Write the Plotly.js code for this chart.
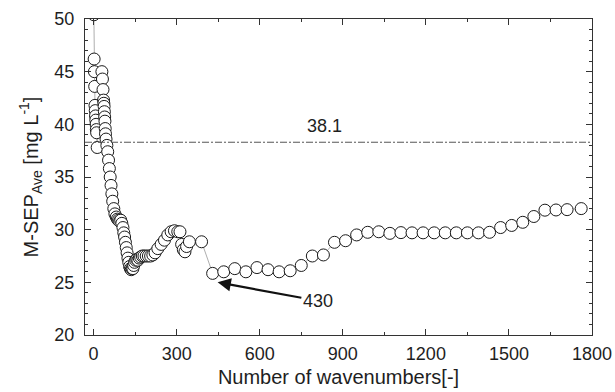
<!DOCTYPE html>
<html>
<head>
<meta charset="utf-8">
<script src="https://cdn.plot.ly/plotly-3.0.1.min.js"></script>
<style>html,body{margin:0;padding:0;background:#fff;}#chart{width:615px;height:392px;}</style>
</head>
<body>
<div id="chart"></div>
<script>
// Number of wavenumbers
const wavenumbers = [
  1, 2, 3, 4, 5, 6, 7, 8, 9, 10, 11, 13,
  30, 32, 34, 36, 37, 38, 39, 40, 41, 42, 43, 45, 48, 51, 54, 57, 60, 63, 66, 69, 73, 77,
  82, 86, 90, 94, 98, 102, 106, 109, 112, 115, 118, 121, 124, 127, 130, 133, 136, 139, 142,
  145, 148, 152, 156, 160, 165, 170, 176, 182, 190, 198, 206, 214, 222, 232, 244, 256, 268,
  280, 292, 304, 312, 318, 324, 330, 336, 346, 390,
  430, 470, 510, 550, 590, 630, 670, 710, 750, 790, 830, 870, 910, 950, 990, 1030, 1070,
  1110, 1150, 1190, 1230, 1270, 1310, 1350, 1390, 1430, 1470, 1510, 1550, 1590, 1630,
  1670, 1710, 1761
];
// M-SEP_Ave [mg L-1]
const msepAve = [
  50.4, 46.2, 45.0, 43.6, 41.8, 41.3, 40.8, 40.4, 40.0, 39.5, 39.2, 37.8,
  45.0, 44.3, 43.3, 42.3, 42.0, 41.7, 41.2, 40.7, 40.3, 39.6, 39.1, 38.6, 38.0, 37.4, 36.6, 35.8, 35.0, 34.2, 33.4, 32.7, 32.0, 31.5,
  31.2, 31.0, 30.9, 30.8, 30.9, 30.6, 30.2, 29.7, 29.3, 28.8, 28.3, 27.8, 27.3, 26.9, 26.5, 26.3, 26.2, 26.3, 26.3,
  26.6, 26.9, 27.1, 27.2, 27.1, 27.3, 27.4, 27.5, 27.5, 27.5, 27.5, 27.5, 27.6, 27.8, 28.2, 28.6, 29.0, 29.5,
  29.8, 29.9, 29.8, 29.8, 28.6, 28.1, 27.9, 28.4, 28.85, 28.85,
  25.85, 26.0, 26.3, 26.0, 26.4, 26.2, 26.0, 26.1, 26.6, 27.5, 27.6, 28.8, 28.95, 29.5, 29.75, 29.8, 29.65,
  29.72, 29.7, 29.7, 29.7, 29.7, 29.7, 29.7, 29.7, 29.75, 30.2, 30.4, 30.7, 31.25, 31.85,
  31.87, 31.9, 32.0
];
// reference line and labels
const refLineValue = 38.3;
const refLineLabel = "38.1";
const minimumPoint = {x: 430, y: 25.85, label: "430"};
const xTickValues = [0, 300, 600, 900, 1200, 1500, 1800];
const yTickValues = [20, 25, 30, 35, 40, 45, 50];

const fontFamily = "'Liberation Sans', Arial, sans-serif";
const inkColor = "#1e1e1e";

const trace = {
  x: wavenumbers,
  y: msepAve,
  type: "scatter",
  mode: "lines+markers",
  line: {color: "#999999", width: 0.8},
  marker: {symbol: "circle", size: 12, color: "#ffffff", line: {color: "#1a1a1a", width: 1}},
  cliponaxis: true,
  showlegend: false
};

const axisCommon = {
  showline: true,
  linecolor: "#333333",
  linewidth: 1,
  mirror: "allticks",
  ticks: "inside",
  ticklen: 6,
  tickwidth: 1,
  tickcolor: "#333333",
  showgrid: false,
  zeroline: false,
  tickfont: {family: fontFamily, size: 18, color: inkColor}
};

const layout = {
  width: 615,
  height: 392,
  margin: {l: 85, r: 23, t: 19, b: 57},
  paper_bgcolor: "#ffffff",
  plot_bgcolor: "#ffffff",
  font: {family: fontFamily, color: inkColor},
  xaxis: Object.assign({}, axisCommon, {
    range: [-31, 1800],
    tickvals: xTickValues,
    ticktext: xTickValues.map(String),
    minor: {dtick: 150, tick0: 0, ticks: "inside", ticklen: 3, tickcolor: "#333333", showgrid: false},
    ticklabelstandoff: 2,
    title: {text: "Number of wavenumbers[-]", font: {family: fontFamily, size: 20, color: inkColor}, standoff: 7}
  }),
  yaxis: Object.assign({}, axisCommon, {
    range: [20, 50],
    tickvals: yTickValues,
    ticktext: yTickValues.map(String),
    minor: {dtick: 1, tick0: 20, ticks: "inside", ticklen: 3, tickcolor: "#333333", showgrid: false},
    ticklabelstandoff: 6,
    title: {text: "M-SEP<sub>Ave</sub> [mg L<sup>-1</sup>]", font: {family: fontFamily, size: 20, color: inkColor}, standoff: 10}
  }),
  shapes: [{
    type: "line", xref: "paper", x0: 0, x1: 1, yref: "y", y0: refLineValue, y1: refLineValue,
    line: {color: "#555555", width: 1, dash: "7px,2px,2px,2px"}
  }],
  annotations: [
    {x: 835, y: refLineValue, xref: "x", yref: "y", text: refLineLabel, showarrow: false,
     yanchor: "bottom", yshift: 4, font: {family: fontFamily, size: 18, color: inkColor}},
    {x: 448, y: 25.0, xref: "x", yref: "y", text: minimumPoint.label, showarrow: true,
     axref: "x", ayref: "y", ax: 810, ay: 23.25, arrowhead: 2, arrowsize: 1.2, arrowwidth: 2.2,
     arrowcolor: "#111111", standoff: 0, font: {family: fontFamily, size: 18, color: inkColor}}
  ]
};

Plotly.newPlot("chart", [trace], layout, {displayModeBar: false, staticPlot: true});
</script>
</body>
</html>
